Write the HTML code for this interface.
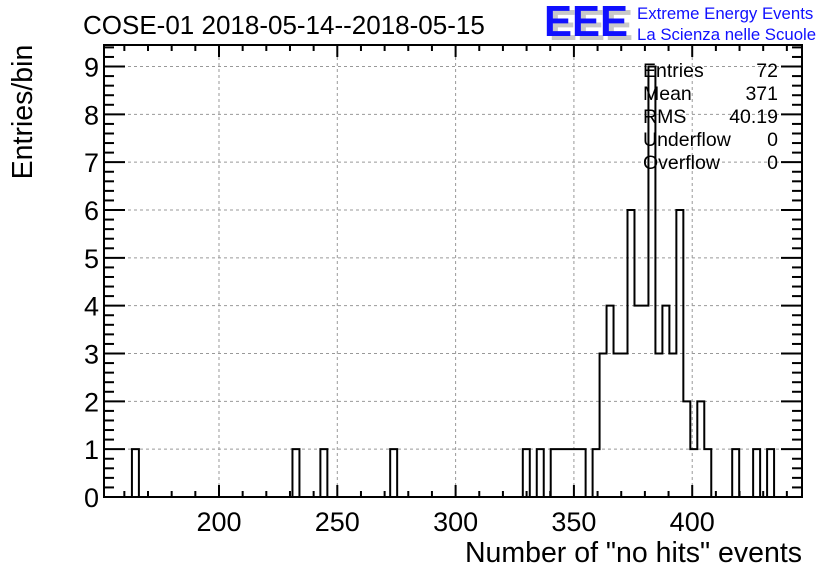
<!DOCTYPE html>
<html><head><meta charset="utf-8"><style>
body{margin:0;background:#fff;}
svg text{font-family:"Liberation Sans",Arial,sans-serif;}
</style></head><body>
<svg id="c" width="836" height="572" viewBox="0 0 836 572">
<rect width="836" height="572" fill="#fff"/>
<g>
<text x="549" y="40" font-size="44" font-weight="bold" fill="#c8c8c8" textLength="84" lengthAdjust="spacingAndGlyphs">EEE</text>
<text x="544" y="36" font-size="44" font-weight="bold" fill="#1010ff" textLength="84" lengthAdjust="spacingAndGlyphs">EEE</text>
<text x="637" y="19" font-size="16.8" fill="#1010ff">Extreme Energy Events</text>
<text x="637" y="40" font-size="16.8" fill="#1010ff">La Scienza nelle Scuole</text>
</g>
<text x="83" y="34" font-size="26" fill="#000">COSE-01 2018-05-14--2018-05-15</text>
<text transform="translate(32,112) rotate(-90)" text-anchor="middle" font-size="28.5">Entries/bin</text>
<text x="802" y="562" text-anchor="end" font-size="28.5">Number of "no hits" events</text>
<g id="grid"></g><g id="axes"></g><g id="hist"></g>
<rect x="104" y="45" width="698" height="452" fill="none" stroke="#000" stroke-width="2"/>
<g font-size="19.5">
<text x="643" y="77">Entries</text><text x="778" y="77" text-anchor="end">72</text>
<text x="643" y="100">Mean</text><text x="778" y="100" text-anchor="end">371</text>
<text x="643" y="123">RMS</text><text x="778" y="123" text-anchor="end">40.19</text>
<text x="643" y="146">Underflow</text><text x="778" y="146" text-anchor="end">0</text>
<text x="643" y="169">Overflow</text><text x="778" y="169" text-anchor="end">0</text>
</g>
</svg>
<script>
const xMin = 151.4, xMax = 446.4, binWidth = 2.95;
const yMax = 9.45;
const xTickLabels = [200, 250, 300, 350, 400];
const yTickLabels = [0,1,2,3,4,5,6,7,8,9];
const counts = [0,0,0,0,1,0,0,0,0,0, 0,0,0,0,0,0,0,0,0,0, 0,0,0,0,0,0,0,1,0,0, 0,1,0,0,0,0,0,0,0,0,
 0,1,0,0,0,0,0,0,0,0, 0,0,0,0,0,0,0,0,0,0, 1,0,1,0,1,1,1,1,1,0, 1,3,4,3,3,6,4,4,9,3,
 4,3,6,2,1,2,1,0,0,0, 1,0,0,1,0,1,0,0,0,0];
const L=104,R=802,T=45,B=497;
const NS="http://www.w3.org/2000/svg";
function X(v){return L+(v-xMin)/(xMax-xMin)*(R-L);}
function Y(v){return B-v/yMax*(B-T);}
function mk(tag,at,parent){const e=document.createElementNS(NS,tag);for(const k in at)e.setAttribute(k,at[k]);parent.appendChild(e);return e;}
const grid=document.getElementById('grid'),axes=document.getElementById('axes'),hist=document.getElementById('hist');
xTickLabels.forEach(v=>{
  const g=mk('line',{x1:X(v),x2:X(v),y1:T,y2:B,stroke:'#999','stroke-dasharray':'3,3','stroke-width':1},grid);
  
  
  const t=mk('text',{x:X(v),y:531,'text-anchor':'middle','font-size':27},axes);
  t.textContent=v;
  
  
});
for(let v=160;v<=440;v+=10){
  const len=(v%50===0)?12:6;
  mk('line',{x1:X(v),x2:X(v),y1:B,y2:B-len,stroke:'#000','stroke-width':2},axes);
  mk('line',{x1:X(v),x2:X(v),y1:T,y2:T+len,stroke:'#000','stroke-width':2},axes);
}
yTickLabels.forEach(v=>{
  if(v>0){const g=mk('line',{x1:L,x2:R,y1:Y(v),y2:Y(v),stroke:'#999','stroke-dasharray':'3,3','stroke-width':1},grid);
  
  }
  const t=mk('text',{x:99,y:Y(v)+10,'text-anchor':'end','font-size':27},axes);
  t.textContent=v;
  
  
});
for(let i=0;i<=47;i++){
  const v=i*0.2; if(v>yMax)break;
  const len=(i%5===0)?21:10;
  mk('line',{x1:L,x2:L+len,y1:Y(v),y2:Y(v),stroke:'#000','stroke-width':2},axes);
  mk('line',{x1:R,x2:R-len,y1:Y(v),y2:Y(v),stroke:'#000','stroke-width':2},axes);
}
let d='M'+X(xMin)+','+Y(0);
counts.forEach((c,i)=>{
  const x0=X(xMin+i*binWidth),x1=X(xMin+(i+1)*binWidth);
  d+=' L'+x0+','+Y(c)+' L'+x1+','+Y(c);
});
d+=' L'+X(xMin+counts.length*binWidth)+','+Y(0);
const p=mk('path',{d:d,fill:'none',stroke:'#000','stroke-width':2},hist);


</script>
</body></html>
